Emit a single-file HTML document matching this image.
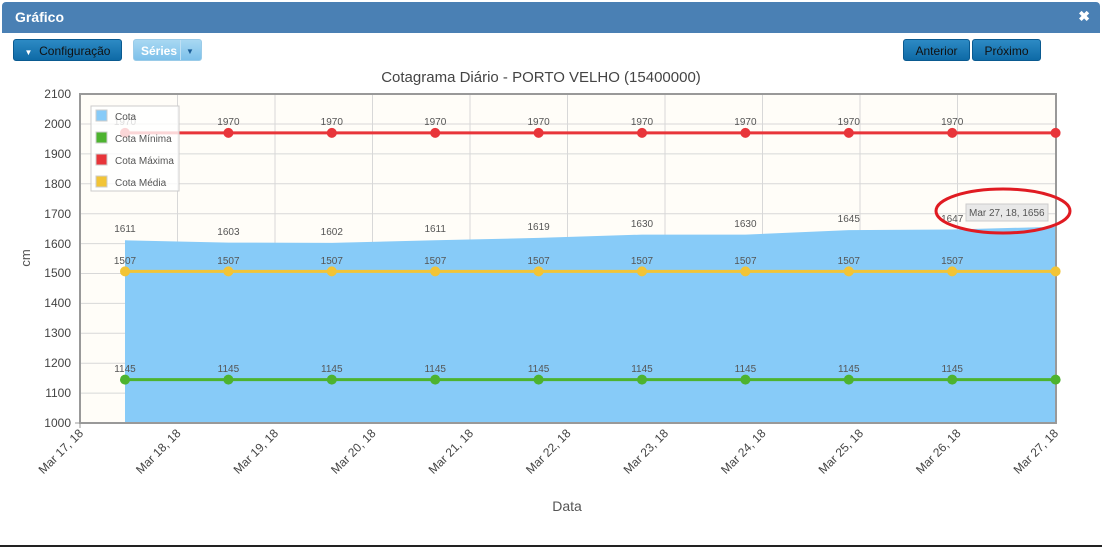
<!DOCTYPE html>
<html><head><meta charset="utf-8"><style>
body{margin:0;width:1102px;height:547px;background:#fff;overflow:hidden;font-family:"Liberation Sans",sans-serif;position:relative}
.hdr{position:absolute;left:2px;top:2px;width:1098px;height:31px;background:#4a80b4;border-radius:4px 4px 0 0}
.hdr b{position:absolute;left:13px;top:7px;color:#fff;font-size:14px}
.hdr i{position:absolute;right:10px;top:6px;color:#fff;font-size:14px;font-style:normal;font-weight:bold}
.btn{position:absolute;top:39px;height:22px;border-radius:3px;background:linear-gradient(#2d8ac4,#0e6aa6);border:1px solid #0a5a90;color:#111;font-size:12px;line-height:22px;text-align:center;box-sizing:border-box}
.bl{position:absolute;left:0;right:0;bottom:0;height:2px;background:#222}
</style></head><body>
<div class="hdr"><b>Gráfico</b><i>✖</i></div>
<div class="btn" style="left:13px;width:109px"><span style="font-size:8px;color:#fff">▼</span>&nbsp; Configuração</div>
<div class="btn" style="left:133px;width:69px;background:linear-gradient(#a8d8f2,#7cc0ea);border-color:#9acbe8;color:#fff;font-weight:bold;text-align:left;padding-left:7px">Séries<span style="position:absolute;left:46px;top:0;width:1px;height:20px;background:#bfe0f4"></span><span style="position:absolute;left:52px;top:1px;font-size:8px;color:#1b5e99">▼</span></div>
<div class="btn" style="left:903px;width:67px">Anterior</div>
<div class="btn" style="left:972px;width:69px">Próximo</div>
<svg width="1102" height="547" style="position:absolute;left:0;top:0" font-family="Liberation Sans,sans-serif">
<text x="541" y="82" text-anchor="middle" font-size="15" fill="#444">Cotagrama Diário - PORTO VELHO (15400000)</text>
<rect x="80" y="94" width="976" height="329" fill="#fffdf8"/>
<g stroke="#d8d8d8" stroke-width="1">
<line x1="80" x2="1056" y1="393.1" y2="393.1"/><line x1="80" x2="1056" y1="363.2" y2="363.2"/><line x1="80" x2="1056" y1="333.3" y2="333.3"/><line x1="80" x2="1056" y1="303.4" y2="303.4"/><line x1="80" x2="1056" y1="273.5" y2="273.5"/><line x1="80" x2="1056" y1="243.6" y2="243.6"/><line x1="80" x2="1056" y1="213.7" y2="213.7"/><line x1="80" x2="1056" y1="183.8" y2="183.8"/><line x1="80" x2="1056" y1="153.9" y2="153.9"/><line x1="80" x2="1056" y1="124" y2="124"/>
<line x1="177.5" x2="177.5" y1="94" y2="423"/><line x1="275" x2="275" y1="94" y2="423"/><line x1="372.5" x2="372.5" y1="94" y2="423"/><line x1="470" x2="470" y1="94" y2="423"/><line x1="567.5" x2="567.5" y1="94" y2="423"/><line x1="665" x2="665" y1="94" y2="423"/><line x1="762.5" x2="762.5" y1="94" y2="423"/><line x1="860" x2="860" y1="94" y2="423"/><line x1="957.5" x2="957.5" y1="94" y2="423"/>
</g>
<polygon fill="#87cbf8" points="125,423 125,240.3 228.4,242.6 331.8,242.9 435.2,240.3 538.6,237.9 642,234.6 745.4,234.6 848.8,230.1 952.2,229.5 1055.6,226.8 1055.6,423"/>
<rect x="80" y="94" width="976" height="329" fill="none" stroke="#999" stroke-width="2"/>
<g font-size="10" fill="#555" text-anchor="middle">
<text x="125" y="232">1611</text><text x="228.4" y="235">1603</text><text x="331.8" y="235">1602</text><text x="435.2" y="232">1611</text><text x="538.6" y="230">1619</text><text x="642" y="227">1630</text><text x="745.4" y="227">1630</text><text x="848.8" y="222">1645</text><text x="952.2" y="222">1647</text>
</g>
<g stroke-width="3">
<line x1="125" x2="1056" y1="132.9" y2="132.9" stroke="#e8353a"/>
<line x1="125" x2="1056" y1="271.4" y2="271.4" stroke="#f2c436"/>
<line x1="125" x2="1056" y1="379.6" y2="379.6" stroke="#4db32f"/>
</g>
<g id="pts">
<g fill="#e8353a"><circle cx="125" cy="132.9" r="5"/><circle cx="228.4" cy="132.9" r="5"/><circle cx="331.8" cy="132.9" r="5"/><circle cx="435.2" cy="132.9" r="5"/><circle cx="538.6" cy="132.9" r="5"/><circle cx="642" cy="132.9" r="5"/><circle cx="745.4" cy="132.9" r="5"/><circle cx="848.8" cy="132.9" r="5"/><circle cx="952.2" cy="132.9" r="5"/><circle cx="1055.6" cy="132.9" r="5"/></g>
<g fill="#f2c436"><circle cx="125" cy="271.4" r="5"/><circle cx="228.4" cy="271.4" r="5"/><circle cx="331.8" cy="271.4" r="5"/><circle cx="435.2" cy="271.4" r="5"/><circle cx="538.6" cy="271.4" r="5"/><circle cx="642" cy="271.4" r="5"/><circle cx="745.4" cy="271.4" r="5"/><circle cx="848.8" cy="271.4" r="5"/><circle cx="952.2" cy="271.4" r="5"/><circle cx="1055.6" cy="271.4" r="5"/></g>
<g fill="#4db32f"><circle cx="125" cy="379.6" r="5"/><circle cx="228.4" cy="379.6" r="5"/><circle cx="331.8" cy="379.6" r="5"/><circle cx="435.2" cy="379.6" r="5"/><circle cx="538.6" cy="379.6" r="5"/><circle cx="642" cy="379.6" r="5"/><circle cx="745.4" cy="379.6" r="5"/><circle cx="848.8" cy="379.6" r="5"/><circle cx="952.2" cy="379.6" r="5"/><circle cx="1055.6" cy="379.6" r="5"/></g>
</g>
<g font-size="10" fill="#555" text-anchor="middle">
<text x="125" y="125">1970</text><text x="228.4" y="125">1970</text><text x="331.8" y="125">1970</text><text x="435.2" y="125">1970</text><text x="538.6" y="125">1970</text><text x="642" y="125">1970</text><text x="745.4" y="125">1970</text><text x="848.8" y="125">1970</text><text x="952.2" y="125">1970</text>
<text x="125" y="264">1507</text><text x="228.4" y="264">1507</text><text x="331.8" y="264">1507</text><text x="435.2" y="264">1507</text><text x="538.6" y="264">1507</text><text x="642" y="264">1507</text><text x="745.4" y="264">1507</text><text x="848.8" y="264">1507</text><text x="952.2" y="264">1507</text>
<text x="125" y="372">1145</text><text x="228.4" y="372">1145</text><text x="331.8" y="372">1145</text><text x="435.2" y="372">1145</text><text x="538.6" y="372">1145</text><text x="642" y="372">1145</text><text x="745.4" y="372">1145</text><text x="848.8" y="372">1145</text><text x="952.2" y="372">1145</text>
</g>
<rect x="91" y="106" width="88" height="85" fill="#fff" fill-opacity="0.8" stroke="#ccc"/>
<g font-size="10" fill="#555">
<rect x="96" y="110" width="11" height="11" fill="#87cbf8" stroke="#ccc"/><text x="115" y="120">Cota</text>
<rect x="96" y="132" width="11" height="11" fill="#4db32f" stroke="#ccc"/><text x="115" y="142">Cota Mínima</text>
<rect x="96" y="154" width="11" height="11" fill="#e8353a" stroke="#ccc"/><text x="115" y="164">Cota Máxima</text>
<rect x="96" y="176" width="11" height="11" fill="#f2c436" stroke="#ccc"/><text x="115" y="186">Cota Média</text>
</g>
<rect x="966" y="204" width="82" height="17" fill="#e8e8e8" stroke="#ccc"/>
<text x="969" y="216" font-size="10" fill="#555">Mar 27, 18, 1656</text>
<ellipse cx="1003" cy="211" rx="67" ry="22" fill="none" stroke="#e01b22" stroke-width="3"/>
<g font-size="12" fill="#444" text-anchor="end">
<text x="71" y="427">1000</text><text x="71" y="397">1100</text><text x="71" y="367">1200</text><text x="71" y="337">1300</text><text x="71" y="307">1400</text><text x="71" y="277">1500</text><text x="71" y="248">1600</text><text x="71" y="218">1700</text><text x="71" y="188">1800</text><text x="71" y="158">1900</text><text x="71" y="128">2000</text><text x="71" y="98">2100</text>
</g>
<g stroke="#999"><line x1="75" x2="80" y1="423" y2="423"/><line x1="80" x2="80" y1="423" y2="428"/></g>
<g font-size="12" fill="#444" text-anchor="end">
<text transform="translate(84,434) rotate(-45)">Mar 17, 18</text>
<text transform="translate(181.5,434) rotate(-45)">Mar 18, 18</text>
<text transform="translate(279,434) rotate(-45)">Mar 19, 18</text>
<text transform="translate(376.5,434) rotate(-45)">Mar 20, 18</text>
<text transform="translate(474,434) rotate(-45)">Mar 21, 18</text>
<text transform="translate(571.5,434) rotate(-45)">Mar 22, 18</text>
<text transform="translate(669,434) rotate(-45)">Mar 23, 18</text>
<text transform="translate(766.5,434) rotate(-45)">Mar 24, 18</text>
<text transform="translate(864,434) rotate(-45)">Mar 25, 18</text>
<text transform="translate(961.5,434) rotate(-45)">Mar 26, 18</text>
<text transform="translate(1059,434) rotate(-45)">Mar 27, 18</text>
</g>
<text x="567" y="511" font-size="14" fill="#555" text-anchor="middle">Data</text>
<text transform="translate(30,258) rotate(-90)" font-size="13" fill="#555" text-anchor="middle">cm</text>
</svg>
<div class="bl"></div>
</body></html>
